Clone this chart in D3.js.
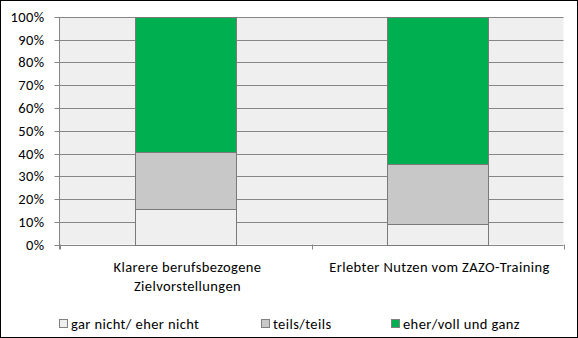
<!DOCTYPE html>
<html><head><meta charset="utf-8">
<script src="https://cdn.jsdelivr.net/npm/d3@7"></script>
<style>body{margin:0;background:#fff}svg{display:block}text{font-family:Carlito,Calibri,"Liberation Sans",Arial,sans-serif;font-size:14.5px;letter-spacing:0.4px;fill:#000}</style>
</head><body><svg id="c" width="578" height="338"></svg>
<script>
const categories = [["Klarere berufsbezogene","Zielvorstellungen"],["Erlebter Nutzen vom ZAZO-Training"]];
const seriesNames = ["gar nicht/ eher nicht","teils/teils","eher/voll und ganz"];
const garNicht = [15.8, 8.8];
const teils = [24.9, 26.6];
const eherVoll = [59.3, 64.6];
const yTicks = [0,10,20,30,40,50,60,70,80,90,100];
const colors = ["#efefef","#c8c8c8","#00b050"];

const svg = d3.select("#c");
svg.append("rect").attr("x",0.5).attr("y",0.5).attr("width",577).attr("height",337).attr("fill","#fff").attr("stroke","#000");
const L=59.5,R=563.5,T=17,B=244.5;
const x = d3.scaleBand().domain(d3.range(categories.length)).range([L,R]).paddingInner(0.6).paddingOuter(0.3);
const y = d3.scaleLinear().domain([0,100]).range([B,T]);
svg.append("rect").attr("x",L).attr("y",T).attr("width",R-L).attr("height",B-T).attr("fill","#efefef");
svg.append("g").selectAll("line").data(yTicks).join("line")
  .attr("x1",L-5).attr("x2",R).attr("y1",d=>Math.round(y(d))+0.5).attr("y2",d=>Math.round(y(d))+0.5)
  .attr("stroke","#868686");
svg.append("g").selectAll("text").data(yTicks).join("text")
  .attr("x",L-15).attr("y",d=>Math.round(y(d))+5).attr("text-anchor","end").text(d=>d+"%");
svg.append("line").attr("x1",L).attr("x2",L).attr("y1",T).attr("y2",B+5).attr("stroke","#868686");
const bounds=[L,(L+R)/2,R];
svg.append("g").selectAll("line").data(bounds).join("line")
  .attr("x1",d=>Math.round(d)+0.5).attr("x2",d=>Math.round(d)+0.5).attr("y1",B).attr("y2",B+5).attr("stroke","#868686");
const rows = categories.map((c,i)=>({i, a:garNicht[i], b:teils[i], c:eherVoll[i]}));
const stack = d3.stack().keys(["a","b","c"])(rows);
stack.forEach((s,k)=>{
  svg.append("g").selectAll("rect").data(s).join("rect")
    .attr("x",d=>Math.round(x(d.data.i))+0.5).attr("width",Math.round(x.bandwidth()))
    .attr("y",d=>Math.round(y(d[1]))+0.5).attr("height",d=>Math.round(y(d[0]))-Math.round(y(d[1])))
    .attr("fill",colors[k]).attr("stroke","#7a7a7a");
});
categories.forEach((lines,i)=>{
  const cx=x(i)+x.bandwidth()/2+2;
  const t=svg.append("text").attr("text-anchor","middle").attr("x",cx).attr("y",272);
  lines.forEach((ln,j)=>t.append("tspan").attr("x",cx).attr("dy",j?19:0).text(ln));
});
const lx=[59,261,391];
seriesNames.forEach((n,k)=>{
  svg.append("rect").attr("x",lx[k]+0.5).attr("y",319.5).attr("width",8).attr("height",8).attr("fill",colors[k]).attr("stroke","#808080");
  svg.append("text").attr("x",lx[k]+12).attr("y",329).text(n);
});
</script></body></html>
